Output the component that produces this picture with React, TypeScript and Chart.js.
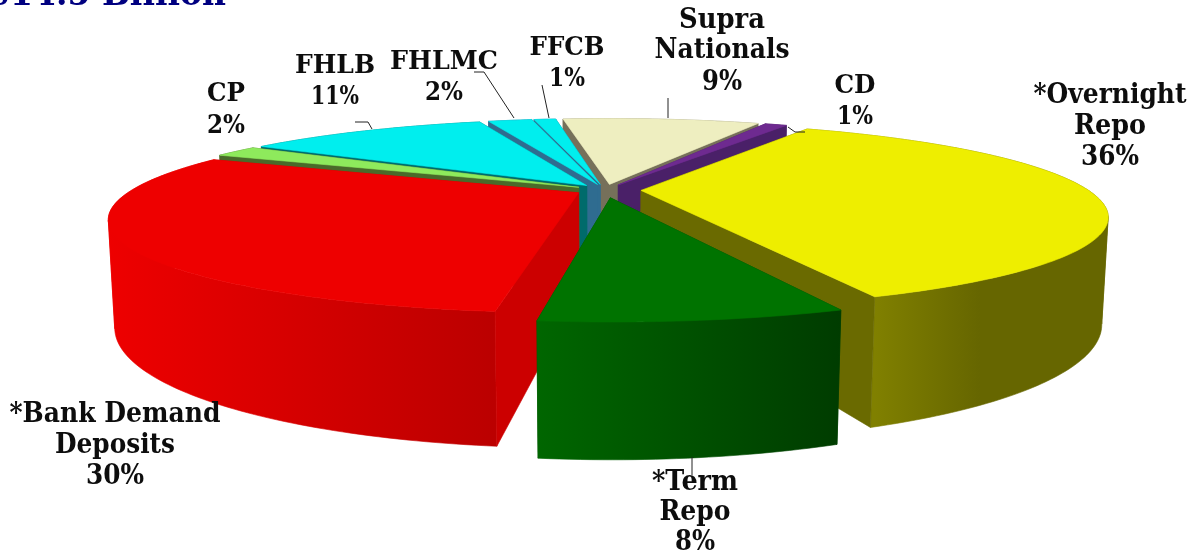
import React, { useEffect, useRef } from "react";
import { Chart, registerables, ArcElement, PieController } from "chart.js";

// ---- data ----
const categories = ["Supra Nationals", "CD", "*Overnight Repo", "*Term Repo", "*Bank Demand Deposits", "CP", "FHLB", "FHLMC", "FFCB"];
const shares = [9, 1, 36, 8, 30, 2, 11, 2, 1];
const topColors = ["#EEEEC0", "#6E2A90", "#EEEE00", "#007300", "#EE0000", "#8EEA5C", "#00EEEE", "#00EEEE", "#00EEEE"];
const wallLeft = ["#8A866C", "#4A2068", "#808000", "#006600", "#EE0000", "#4A6A2A", "#006B6B", "#3A6EA0", "#3A6EA0"];
const wallRight = ["#8A866C", "#4A2068", "#666600", "#003C00", "#BB0000", "#4A6A2A", "#006B6B", "#3A6EA0", "#3A6EA0"];
const faceColors = ["#76705A", "#4A2068", "#6A6A00", "#004800", "#CC0000", "#4A6A2A", "#006B6B", "#2F6C90", "#2F6C90"];
const explode = [30, 30, 36, 40, 30, 30, 30, 30, 30];
const titleText = "$14.5 Billion";

const labelRows = [
  { lines: ["Supra", "Nationals", "9%"], x: 722, y: [28, 58, 90], w: [86, 135, 40], size: 27 },
  { lines: ["CD", "1%"], x: 855, y: [93, 124], w: [41, 36], size: 26 },
  { lines: ["*Overnight", "Repo", "36%"], x: 1110, y: [103, 134, 165], w: [153, 72, 58], size: 27 },
  { lines: ["*Term", "Repo", "8%"], x: 695, y: [490, 520, 550], w: [86, 71, 40], size: 28 },
  { lines: ["*Bank Demand", "Deposits", "30%"], x: 115, y: [422, 453, 484], w: [211, 120, 58], size: 28 },
  { lines: ["CP", "2%"], x: 226, y: [101, 133], w: [38, 38], size: 26 },
  { lines: ["FHLB", "11%"], x: 335, y: [73, 104], w: [80, 48], size: 26 },
  { lines: ["FHLMC", "2%"], x: 444, y: [69, 100], w: [108, 38], size: 26 },
  { lines: ["FFCB", "1%"], x: 567, y: [55, 86], w: [75, 36], size: 26 },
];

const leaderLines = [
  [[788, 127], [795, 132], [805, 132]],
  [[692, 457], [692, 475]],
  [[668, 98], [668, 118]],
  [[542, 85], [549, 118]],
  [[474, 72], [484, 72], [514, 118]],
  [[355, 122], [368, 122], [372, 129]],
];

// ---- camera of the 3D look ----
const VIEW = { cx: 605, cy: 190, R: 447, tilt: (78.9 * Math.PI) / 180, persp: 1646, depth: 103 };
const SA = Math.sin(VIEW.tilt);
const CA = Math.cos(VIEW.tilt);
function project(X: number, Y: number, Z: number) {
  const s = VIEW.persp / (VIEW.persp - Y * SA + Z * CA);
  return [VIEW.cx + X * s, VIEW.cy + (Y * CA + Z * SA) * s];
}

function paint(ctx: any, pts: number[][], fill: any) {
  ctx.beginPath();
  pts.forEach((p, i) => (i ? ctx.lineTo(p[0], p[1]) : ctx.moveTo(p[0], p[1])));
  ctx.closePath();
  ctx.fillStyle = fill;
  ctx.strokeStyle = fill;
  ctx.lineWidth = 0.6;
  ctx.lineJoin = "round";
  ctx.fill();
  ctx.stroke();
}

// cut the rim where its projection turns back, so each ribbon is a simple polygon
function monotonicRuns(rim: number[][], top: (p: number[]) => number[]) {
  const runs: number[][][] = [];
  let run = [rim[0]];
  let dir = 0;
  for (let j = 1; j < rim.length; j++) {
    const d = Math.sign(top(rim[j])[0] - top(rim[j - 1])[0]);
    if (dir !== 0 && d !== 0 && d !== dir) {
      runs.push(run);
      run = [rim[j - 1]];
    }
    if (d !== 0) dir = d;
    run.push(rim[j]);
  }
  runs.push(run);
  const meanY = (r: number[][]) => r.reduce((s, p) => s + p[1], 0) / r.length;
  return runs.sort((a, b) => meanY(a) - meanY(b));
}

class Arc3D extends (ArcElement as any) {
  static id = "arc3d";
  draw(ctx: any) {
    const a0 = this.startAngle;
    const a1 = this.endAngle;
    const i = this.sliceIndex;
    const mid = (a0 + a1) / 2;
    const k = this.options.offset || 0;
    const ox = Math.cos(mid) * k;
    const oy = Math.sin(mid) * k;
    const n = Math.max(2, Math.ceil(((a1 - a0) * 180) / Math.PI));
    const rim: number[][] = [];
    for (let j = 0; j <= n; j++) {
      const a = a0 + ((a1 - a0) * j) / n;
      rim.push([ox + Math.cos(a) * VIEW.R, oy + Math.sin(a) * VIEW.R]);
    }
    const top = (p: number[]) => project(p[0], p[1], 0);
    const bot = (p: number[]) => project(p[0], p[1], VIEW.depth);
    const apex = [ox, oy];
    const front = rim.filter((p) => p[1] > 0);
    const xs = (front.length > 1 ? front : rim).map((p) => top(p)[0]);
    const grad = ctx.createLinearGradient(Math.min(...xs), 0, Math.max(...xs), 0);
    grad.addColorStop(0, wallLeft[i]);
    grad.addColorStop(i === 2 ? 0.45 : 1, wallRight[i]);
    if (i === 2) grad.addColorStop(1, wallRight[i]);

    const faceOf = (e: number[]) => [top(apex), top(e), bot(e), bot(apex)];
    const startFront = -Math.cos(a0) > 0;
    const endFront = Math.cos(a1) > 0;
    ctx.save();
    if (!startFront) paint(ctx, faceOf(rim[0]), faceColors[i]);
    if (!endFront) paint(ctx, faceOf(rim[n]), faceColors[i]);
    monotonicRuns(rim, top).forEach((r) => paint(ctx, [...r.map(top), ...[...r].reverse().map(bot)], grad));
    if (startFront) paint(ctx, faceOf(rim[0]), faceColors[i]);
    if (endFront) paint(ctx, faceOf(rim[n]), faceColors[i]);
    paint(ctx, [top(apex), ...rim.map(top)], this.options.backgroundColor);
    ctx.restore();
  }
}

class Pie3D extends (PieController as any) {
  static id = "pie3d";
  static defaults = { dataElementType: "arc3d" };
  draw() {
    const ctx = this._ctx;
    const area = this.chart.chartArea;
    const depthOf = (e: any) => {
      const m = (e.startAngle + e.endAngle) / 2;
      return Math.sin(m) * (VIEW.R * 0.66 + (e.options.offset || 0));
    };
    const arcs = this._cachedMeta.data.map((e: any, i: number) => {
      e.sliceIndex = i;
      return e;
    });
    [...arcs].sort((a: any, b: any) => depthOf(a) - depthOf(b)).forEach((e: any) => e.draw(ctx, area));
  }
}

const textPlugin = {
  id: "pieText",
  afterDatasetsDraw(chart: any) {
    const ctx = chart.ctx;
    ctx.save();
    ctx.strokeStyle = "#222222";
    ctx.lineWidth = 1;
    leaderLines.forEach((l) => {
      ctx.beginPath();
      l.forEach((p, i) => (i ? ctx.lineTo(p[0], p[1]) : ctx.moveTo(p[0], p[1])));
      ctx.stroke();
    });
    ctx.textBaseline = "alphabetic";
    ctx.fillStyle = "#000080";
    ctx.textAlign = "right";
    ctx.font = "bold 33px 'DejaVu Serif'";
    ctx.fillText(titleText, 226, 5);
    ctx.textAlign = "center";
    ctx.fillStyle = "#0d0d0d";
    labelRows.forEach((r) => {
      ctx.font = `bold ${r.size}px 'DejaVu Serif'`;
      r.lines.forEach((t, i) => ctx.fillText(t, r.x, r.y[i], r.w[i]));
    });
    ctx.restore();
  },
};

Chart.register(...registerables, Arc3D as any, Pie3D as any);

export default function App() {
  const ref = useRef<HTMLCanvasElement>(null);
  useEffect(() => {
    const chart = new Chart(ref.current as any, {
      type: "pie3d" as any,
      data: {
        labels: categories,
        datasets: [
          {
            data: shares,
            backgroundColor: topColors,
            offset: explode,
            borderWidth: 0,
            clip: false,
          } as any,
        ],
      },
      options: {
        animation: false,
        responsive: false,
        maintainAspectRatio: false,
        rotation: -7.5,
        events: [],
        plugins: { legend: { display: false }, tooltip: { enabled: false } },
      } as any,
      plugins: [textPlugin],
    });
    return () => chart.destroy();
  }, []);
  return (
    <div style={{ position: "absolute", left: 0, top: 0, width: 1195, height: 554, overflow: "hidden", background: "#fff" }}>
      <canvas ref={ref} width={1195} height={554} style={{ display: "block" }} />
    </div>
  );
}
